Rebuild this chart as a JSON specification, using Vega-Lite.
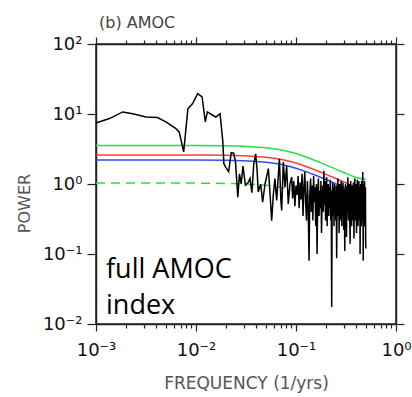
{
"$schema": "https://vega.github.io/schema/vega-lite/v6.json",
"width": 300, "height": 280,
"autosize": "none",
"padding": {"left": 96, "top": 44, "right": 16, "bottom": 73},
"background": "white",
"config": {
  "view": {"stroke": "#222", "strokeWidth": 1.5},
  "axis": {"grid": false, "domainColor": "#222", "domainWidth": 1.5, "tickColor": "#222", "tickWidth": 1.2, "labelColor": "#111", "labelFont": "DejaVu Sans", "labelFontSize": 18}
},
"title": {"text": "(b) AMOC", "anchor": "start", "frame": "group", "font": "DejaVu Sans", "fontSize": 16, "fontWeight": "normal", "color": "#444", "baseline": "alphabetic", "offset": -9, "dx": 3},
"datasets": {
  "spec": [
    {"f":0.001,"p":7.45},{"f":0.00136,"p":8.6},{"f":0.00185,"p":10.7},{"f":0.00233,"p":10.1},{"f":0.00316,"p":9.06},{"f":0.00412,"p":8.9},{"f":0.005,"p":7.7},{"f":0.0063,"p":6.2},{"f":0.0068,"p":5.5},{"f":0.00753,"p":2.87},{"f":0.0083,"p":11.9},{"f":0.00925,"p":14.1},{"f":0.0104,"p":19.5},{"f":0.0115,"p":17.5},{"f":0.0124,"p":7.7},{"f":0.013,"p":10.7},{"f":0.0147,"p":9.6},{"f":0.0158,"p":9.06},{"f":0.0174,"p":10.1},{"f":0.0185,"p":4.2},{"f":0.019,"p":1.95},{"f":0.02,"p":1.7},{"f":0.0212,"p":1.5},{"f":0.0225,"p":2.8},{"f":0.0238,"p":2.75},{"f":0.0248,"p":2.1},{"f":0.0262,"p":0.65},{"f":0.0272,"p":1.4},{"f":0.0283,"p":1.0},{"f":0.0295,"p":1.8},{"f":0.0312,"p":0.96},{"f":0.0332,"p":1.05},{"f":0.0347,"p":1.2},{"f":0.0362,"p":0.75},{"f":0.0378,"p":1.9},{"f":0.0395,"p":2.7},{"f":0.0408,"p":1.6},{"f":0.0419,"p":0.77},{"f":0.0443,"p":1.0},{"f":0.0464,"p":0.55},{"f":0.049,"p":1.0},{"f":0.0529,"p":1.66},{"f":0.055,"p":0.73},{"f":0.0571,"p":0.3},{"f":0.0593,"p":0.7},{"f":0.0615,"p":1.2},{"f":0.0641,"p":0.58},{"f":0.0665,"p":1.3},{"f":0.0682,"p":2.3},{"f":0.0705,"p":0.6},{"f":0.0719,"p":0.42},{"f":0.0747,"p":2.06},{"f":0.0776,"p":0.9},{"f":0.0806,"p":1.8},{"f":0.0837,"p":0.52},{"f":0.087,"p":1.0},{"f":0.0905,"p":1.26},
    {"f":0.0925,"p":0.62},{"f":0.095,"p":1.1},{"f":0.0975,"p":0.48},{"f":0.1,"p":0.95},{"f":0.1025,"p":0.7},{"f":0.105,"p":1.3},{"f":0.1075,"p":0.45},{"f":0.11,"p":1.05},{"f":0.1125,"p":0.6},{"f":0.115,"p":1.4},
    {"f":0.1175,"p":0.35},{"f":0.12,"p":0.9},{"f":0.1225,"p":1.5},{"f":0.125,"p":0.5},{"f":0.1275,"p":0.3},{"f":0.13,"p":1.1},{"f":0.1325,"p":0.45},{"f":0.135,"p":0.08},{"f":0.1375,"p":0.75},{"f":0.14,"p":1.2},
    {"f":0.1425,"p":0.4},{"f":0.145,"p":0.95},{"f":0.1475,"p":0.3},{"f":0.15,"p":1.3},{"f":0.1525,"p":0.55},{"f":0.155,"p":0.9},{"f":0.1575,"p":0.25},{"f":0.16,"p":1.0},{"f":0.1625,"p":0.1},{"f":0.165,"p":0.7},
    {"f":0.1675,"p":1.2},{"f":0.17,"p":0.35},{"f":0.1725,"p":0.8},{"f":0.175,"p":0.45},{"f":0.1775,"p":1.1},{"f":0.18,"p":0.2},{"f":0.1825,"p":0.6},{"f":0.185,"p":0.95},{"f":0.1875,"p":0.4},{"f":0.19,"p":1.55},
    {"f":0.1925,"p":0.5},{"f":0.195,"p":1.1},{"f":0.1975,"p":0.3},{"f":0.2,"p":0.85},{"f":0.2025,"p":1.25},{"f":0.205,"p":0.25},{"f":0.2075,"p":0.7},{"f":0.21,"p":1.0},{"f":0.2125,"p":0.35},{"f":0.215,"p":0.9},
    {"f":0.2175,"p":0.45},{"f":0.22,"p":1.15},{"f":0.2225,"p":0.3},{"f":0.225,"p":0.8},{"f":0.2275,"p":0.0175},{"f":0.23,"p":0.6},{"f":0.2325,"p":1.05},{"f":0.235,"p":0.35},{"f":0.2375,"p":0.9},{"f":0.24,"p":0.25},
    {"f":0.2425,"p":1.0},{"f":0.245,"p":0.4},{"f":0.2475,"p":0.75},{"f":0.25,"p":0.3},{"f":0.2525,"p":0.95},{"f":0.255,"p":0.087},{"f":0.2575,"p":0.55},{"f":0.26,"p":0.85},{"f":0.2625,"p":1.2},{"f":0.265,"p":0.35},
    {"f":0.2675,"p":0.7},{"f":0.27,"p":0.2},{"f":0.2725,"p":1.0},{"f":0.275,"p":0.45},{"f":0.2775,"p":0.8},{"f":0.28,"p":0.3},{"f":0.2825,"p":1.1},{"f":0.285,"p":0.5},{"f":0.2875,"p":0.25},{"f":0.29,"p":0.9},
    {"f":0.2925,"p":0.4},{"f":0.295,"p":1.05},{"f":0.2975,"p":0.6},{"f":0.3,"p":0.22},{"f":0.3025,"p":0.85},{"f":0.305,"p":0.45},{"f":0.3075,"p":0.11},{"f":0.31,"p":0.7},{"f":0.3125,"p":1.0},{"f":0.315,"p":0.35},
    {"f":0.3175,"p":0.8},{"f":0.32,"p":0.175},{"f":0.3225,"p":0.6},{"f":0.325,"p":0.95},{"f":0.3275,"p":0.4},{"f":0.33,"p":1.25},{"f":0.3325,"p":0.5},{"f":0.335,"p":0.3},{"f":0.3375,"p":0.85},{"f":0.34,"p":0.45},
    {"f":0.3425,"p":1.0},{"f":0.345,"p":0.3},{"f":0.3475,"p":0.14},{"f":0.35,"p":0.7},{"f":0.3525,"p":1.1},{"f":0.355,"p":0.4},{"f":0.3575,"p":0.85},{"f":0.36,"p":0.25},{"f":0.3625,"p":0.95},{"f":0.365,"p":0.5},
    {"f":0.3675,"p":0.3},{"f":0.37,"p":0.9},{"f":0.3725,"p":0.45},{"f":0.375,"p":1.05},{"f":0.3775,"p":0.35},{"f":0.38,"p":0.167},{"f":0.3825,"p":0.75},{"f":0.385,"p":0.5},{"f":0.3875,"p":1.2},{"f":0.39,"p":0.4},
    {"f":0.3925,"p":0.8},{"f":0.395,"p":0.3},{"f":0.3975,"p":1.0},{"f":0.4,"p":0.55},{"f":0.4025,"p":0.2},{"f":0.405,"p":0.9},{"f":0.4075,"p":0.45},{"f":0.41,"p":1.15},{"f":0.4125,"p":0.35},{"f":0.415,"p":0.7},
    {"f":0.4175,"p":0.25},{"f":0.42,"p":0.95},{"f":0.4225,"p":0.5},{"f":0.425,"p":1.1},{"f":0.4275,"p":0.3},{"f":0.43,"p":0.8},{"f":0.4325,"p":0.4},{"f":0.435,"p":0.9},{"f":0.4375,"p":0.1},{"f":0.44,"p":0.6},
    {"f":0.4425,"p":1.0},{"f":0.445,"p":0.35},{"f":0.4475,"p":0.85},{"f":0.45,"p":0.25},{"f":0.4525,"p":1.1},{"f":0.455,"p":0.45},{"f":0.4575,"p":0.7},{"f":0.46,"p":0.3},{"f":0.4625,"p":0.95},{"f":0.465,"p":1.48},
    {"f":0.4675,"p":0.5},{"f":0.47,"p":0.08},{"f":0.4725,"p":0.6},{"f":0.475,"p":1.0},{"f":0.4775,"p":0.3},{"f":0.48,"p":0.85},{"f":0.4825,"p":0.4},{"f":0.485,"p":1.1},{"f":0.4875,"p":0.25},{"f":0.49,"p":0.75},{"f":0.4925,"p":0.35},{"f":0.495,"p":0.9},{"f":0.4975,"p":0.15},{"f":0.5,"p":0.12}
  ],
  "curves": [
    {"s":"green","f":0.001,"p":3.55},{"s":"green","f":0.01,"p":3.55},{"s":"green","f":0.02,"p":3.51},{"s":"green","f":0.03,"p":3.46},{"s":"green","f":0.04,"p":3.39},{"s":"green","f":0.05,"p":3.3},{"s":"green","f":0.06,"p":3.2},{"s":"green","f":0.07,"p":3.09},{"s":"green","f":0.08,"p":2.96},{"s":"green","f":0.1,"p":2.72},{"s":"green","f":0.12,"p":2.49},{"s":"green","f":0.14,"p":2.29},{"s":"green","f":0.16,"p":2.13},{"s":"green","f":0.18,"p":1.99},{"s":"green","f":0.2,"p":1.86},{"s":"green","f":0.25,"p":1.63},{"s":"green","f":0.3,"p":1.46},{"s":"green","f":0.35,"p":1.33},{"s":"green","f":0.4,"p":1.24},{"s":"green","f":0.45,"p":1.19},{"s":"green","f":0.5,"p":1.17},
    {"s":"red","f":0.001,"p":2.6},{"s":"red","f":0.01,"p":2.6},{"s":"red","f":0.02,"p":2.57},{"s":"red","f":0.03,"p":2.54},{"s":"red","f":0.04,"p":2.48},{"s":"red","f":0.05,"p":2.42},{"s":"red","f":0.06,"p":2.34},{"s":"red","f":0.07,"p":2.26},{"s":"red","f":0.08,"p":2.17},{"s":"red","f":0.1,"p":1.99},{"s":"red","f":0.12,"p":1.82},{"s":"red","f":0.14,"p":1.68},{"s":"red","f":0.16,"p":1.56},{"s":"red","f":0.18,"p":1.46},{"s":"red","f":0.2,"p":1.37},{"s":"red","f":0.25,"p":1.2},{"s":"red","f":0.3,"p":1.07},{"s":"red","f":0.35,"p":0.975},{"s":"red","f":0.4,"p":0.91},{"s":"red","f":0.45,"p":0.87},{"s":"red","f":0.5,"p":0.86},
    {"s":"blue","f":0.001,"p":2.2},{"s":"blue","f":0.01,"p":2.2},{"s":"blue","f":0.02,"p":2.18},{"s":"blue","f":0.03,"p":2.15},{"s":"blue","f":0.04,"p":2.1},{"s":"blue","f":0.05,"p":2.05},{"s":"blue","f":0.06,"p":1.98},{"s":"blue","f":0.07,"p":1.91},{"s":"blue","f":0.08,"p":1.84},{"s":"blue","f":0.1,"p":1.68},{"s":"blue","f":0.12,"p":1.54},{"s":"blue","f":0.14,"p":1.42},{"s":"blue","f":0.16,"p":1.32},{"s":"blue","f":0.18,"p":1.23},{"s":"blue","f":0.2,"p":1.16},{"s":"blue","f":0.25,"p":1.01},{"s":"blue","f":0.3,"p":0.9},{"s":"blue","f":0.35,"p":0.825},{"s":"blue","f":0.4,"p":0.77},{"s":"blue","f":0.45,"p":0.74},{"s":"blue","f":0.5,"p":0.73},
    {"s":"mean","f":0.001,"p":1.03},{"s":"mean","f":0.01,"p":1.03},{"s":"mean","f":0.02,"p":1.02},{"s":"mean","f":0.03,"p":1.0},{"s":"mean","f":0.04,"p":0.98},{"s":"mean","f":0.05,"p":0.96},{"s":"mean","f":0.06,"p":0.93},{"s":"mean","f":0.07,"p":0.9},{"s":"mean","f":0.08,"p":0.86},{"s":"mean","f":0.1,"p":0.79},{"s":"mean","f":0.12,"p":0.72},{"s":"mean","f":0.14,"p":0.66},{"s":"mean","f":0.16,"p":0.62},{"s":"mean","f":0.18,"p":0.58},{"s":"mean","f":0.2,"p":0.54},{"s":"mean","f":0.25,"p":0.47},{"s":"mean","f":0.3,"p":0.42},{"s":"mean","f":0.35,"p":0.39},{"s":"mean","f":0.4,"p":0.36},{"s":"mean","f":0.45,"p":0.35},{"s":"mean","f":0.5,"p":0.34}
  ],
  "labels": [
    {"t":"full AMOC","f":0.00126,"p":0.046},
    {"t":"index","f":0.00126,"p":0.0141}
  ]
},
"layer": [
  {
    "data": {"name": "curves"},
    "transform": [{"filter": "datum.s != 'mean'"}],
    "mark": {"type": "line", "strokeWidth": 1.5},
    "encoding": {
      "x": {"field": "f", "type": "quantitative", "scale": {"type": "log", "domain": [0.001, 1], "nice": false},
        "axis": {"orient": "bottom", "values": [0.001,0.002,0.003,0.004,0.005,0.006,0.007,0.008,0.009,0.01,0.02,0.03,0.04,0.05,0.06,0.07,0.08,0.09,0.1,0.2,0.3,0.4,0.5,0.6,0.7,0.8,0.9,1],
          "tickSize": {"condition": {"test": "abs(log(datum.value)/LN10 - round(log(datum.value)/LN10)) < 0.01", "value": 7}, "value": 4},
          "labelExpr": "abs(log(datum.value)/LN10 - round(log(datum.value)/LN10)) < 0.01 ? ['10⁻³','10⁻²','10⁻¹','10⁰'][round(log(datum.value)/LN10)+3] : ''",
          "labelOverlap": false, "labelFlush": false, "labelBound": false, "labelPadding": 10,
          "title": "FREQUENCY (1/yrs)", "titleFont": "DejaVu Sans", "titleFontSize": 17, "titleFontWeight": "normal", "titleColor": "#555", "titleY": 64, "titleBaseline": "alphabetic"}},
      "y": {"field": "p", "type": "quantitative", "scale": {"type": "log", "domain": [0.01, 100], "nice": false},
        "axis": {"orient": "left", "values": [0.01, 0.1, 1, 10, 100], "tickSize": 9, "labelPadding": 5,
          "labelExpr": "['10⁻²','10⁻¹','10⁰','10¹','10²'][round(log(datum.value)/LN10)+2]",
          "labelOverlap": false, "labelFlush": false, "labelBound": false,
          "title": "POWER", "titleFont": "DejaVu Sans", "titleFontSize": 16, "titleFontWeight": "normal", "titleColor": "#555",
          "titleAngle": 270, "titleX": -67, "titleY": 159, "titleAlign": "center", "titleBaseline": "alphabetic"}},
      "color": {"field": "s", "type": "nominal", "scale": {"domain": ["blue", "red", "green"], "range": ["#2f4cf5", "#ff3c3c", "#22e04a"]}, "legend": null}
    }
  },
  {
    "data": {"name": "curves"},
    "transform": [{"filter": "datum.s == 'mean'"}],
    "mark": {"type": "line", "strokeWidth": 1.5, "color": "#22e04a", "strokeDash": [9, 6]},
    "encoding": {
      "x": {"field": "f", "type": "quantitative", "scale": {"type": "log", "domain": [0.001, 1], "nice": false}, "axis": null},
      "y": {"field": "p", "type": "quantitative", "scale": {"type": "log", "domain": [0.01, 100], "nice": false}, "axis": null}
    }
  },
  {
    "data": {"name": "spec"},
    "mark": {"type": "line", "color": "#000", "strokeWidth": 1.5},
    "encoding": {
      "x": {"field": "f", "type": "quantitative", "scale": {"type": "log", "domain": [0.001, 1], "nice": false},
        "axis": {"orient": "top", "values": [0.001,0.002,0.003,0.004,0.005,0.006,0.007,0.008,0.009,0.01,0.02,0.03,0.04,0.05,0.06,0.07,0.08,0.09,0.1,0.2,0.3,0.4,0.5,0.6,0.7,0.8,0.9,1],
          "tickSize": {"condition": {"test": "abs(log(datum.value)/LN10 - round(log(datum.value)/LN10)) < 0.01", "value": 7}, "value": 4},
          "labels": false, "title": null}},
      "y": {"field": "p", "type": "quantitative", "scale": {"type": "log", "domain": [0.01, 100], "nice": false},
        "axis": {"orient": "right", "values": [0.01, 0.1, 1, 10, 100], "tickSize": 8, "labels": false, "title": null}}
    }
  },
  {
    "data": {"name": "labels"},
    "mark": {"type": "text", "align": "left", "baseline": "alphabetic", "font": "Open Sans", "fontSize": 27, "color": "#000"},
    "encoding": {
      "x": {"field": "f", "type": "quantitative", "scale": {"type": "log", "domain": [0.001, 1], "nice": false}, "axis": null},
      "y": {"field": "p", "type": "quantitative", "scale": {"type": "log", "domain": [0.01, 100], "nice": false}, "axis": null},
      "text": {"field": "t"}
    }
  }
],
"resolve": {"axis": {"x": "independent", "y": "independent"}}
}
